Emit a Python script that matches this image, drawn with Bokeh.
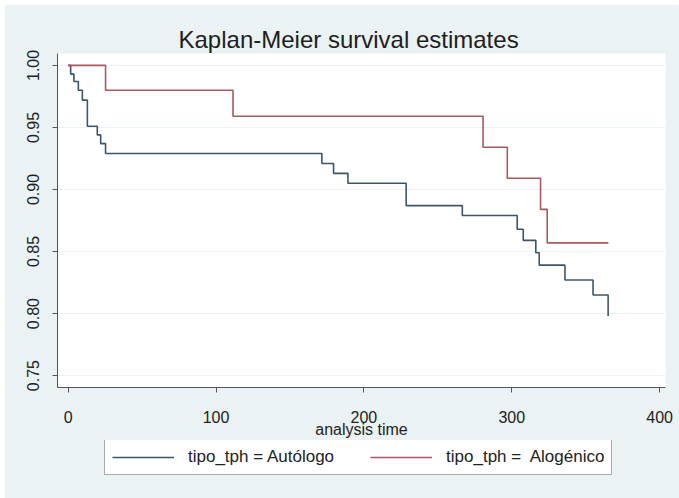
from bokeh.plotting import figure
from bokeh.layouts import column
from bokeh.models import Range1d, FixedTicker, Legend, LegendItem
from bokeh.embed import file_html
from bokeh.resources import INLINE

# Data (Kaplan-Meier step estimates)
auto_time = [0, 1.7, 3.9, 6.9, 9.6, 13.0, 19.7, 22.0, 25.3, 171.6, 179.5, 189.2,
             228.6, 266.6, 303.7, 307.8, 316.3, 318.6, 336.0, 355.0, 365.2]
auto_surv = [1.000, 0.993, 0.987, 0.980, 0.972, 0.951, 0.944, 0.937, 0.929, 0.921, 0.913, 0.905,
             0.887, 0.879, 0.868, 0.859, 0.849, 0.839, 0.827, 0.815, 0.798]
alo_time = [0, 25.3, 111.5, 280.6, 297.0, 319.5, 324.0, 365.4]
alo_surv = [1.000, 0.980, 0.959, 0.934, 0.909, 0.884, 0.857, 0.857]

x_ticks = [0, 100, 200, 300, 400]
y_ticks = [0.75, 0.80, 0.85, 0.90, 0.95, 1.00]
y_labels = ["0.75", "0.80", "0.85", "0.90", "0.95", "1.00"]
title_text = "Kaplan-Meier survival estimates"
x_label = "analysis time"
series_labels = ["tipo_tph = Autólogo", "tipo_tph =  Alogénico"]

FONT = "Liberation Sans"
BG = "#eaf2f3"
BLUE = "#3f5466"
RED = "#a8585f"

p = figure(width=674, height=435, output_backend="svg", toolbar_location=None,
           x_range=Range1d(-7.2, 404), y_range=Range1d(0.7404, 1.0096),
           min_border_left=52, min_border_right=14, min_border_top=48, min_border_bottom=50)
p.background_fill_color = "white"
p.border_fill_color = BG
p.outline_line_color = None

p.title.text = title_text
p.title.align = "left"
p.title.offset = 121
p.title.text_font = FONT
p.title.text_font_size = "24px"
p.title.text_font_style = "normal"
p.title.text_color = "#1e1e1e"
p.title.standoff = 2

p.step(auto_time, auto_surv, mode="after", line_color=BLUE, line_width=1.6)
p.step(alo_time, alo_surv, mode="after", line_color=RED, line_width=1.6)

# axes
p.xaxis.ticker = FixedTicker(ticks=x_ticks)
p.yaxis.ticker = FixedTicker(ticks=y_ticks)
p.yaxis.major_label_overrides = {t: l for t, l in zip(y_ticks, y_labels)}
p.yaxis.major_label_orientation = "vertical"
p.xaxis.axis_label = x_label
for ax in (p.xaxis, p.yaxis):
    ax.axis_line_color = "#555555"
    ax.major_tick_line_color = "#555555"
    ax.major_tick_out = 5
    ax.major_tick_in = 0
    ax.minor_tick_out = 0
    ax.minor_tick_in = 0
    ax.major_label_text_font = FONT
    ax.major_label_text_font_size = "16px"
    ax.major_label_text_color = "#222222"
    ax.axis_label_text_font = FONT
    ax.axis_label_text_font_size = "16px"
    ax.axis_label_text_font_style = "normal"
    ax.axis_label_text_color = "#222222"
p.xaxis.major_label_standoff = 18
p.xaxis.axis_label_standoff = -5
p.yaxis.major_label_standoff = 13

p.xgrid.grid_line_color = None
p.ygrid.grid_line_color = BG
p.ygrid.grid_line_width = 1

# legend strip below the plot (same series, drawn outside its visible ranges)
lf = figure(width=674, height=58, output_backend="svg", toolbar_location=None,
            x_range=Range1d(1000, 1001), y_range=Range1d(1000, 1001),
            x_axis_location=None, y_axis_location=None,
            min_border_left=0, min_border_right=0, min_border_top=0, min_border_bottom=0)
lf.background_fill_color = BG
lf.border_fill_color = BG
lf.outline_line_color = None
lf.xgrid.grid_line_color = None
lf.ygrid.grid_line_color = None
l1 = lf.step(auto_time, auto_surv, mode="after", line_color=BLUE, line_width=1.6)
l2 = lf.step(alo_time, alo_surv, mode="after", line_color=RED, line_width=1.6)

legend = Legend(items=[LegendItem(label=series_labels[0], renderers=[l1]),
                       LegendItem(label=series_labels[1], renderers=[l2])],
                orientation="horizontal", location=(47, 23))
legend.label_text_font = FONT
legend.label_text_font_size = "17px"
legend.label_text_color = "#222222"
legend.glyph_width = 62
legend.glyph_height = 14
legend.label_standoff = 14
legend.spacing = 36
legend.padding = 7
legend.margin = 0
legend.border_line_color = "#555555"
legend.border_line_width = 1
legend.background_fill_color = "white"
legend.background_fill_alpha = 1
lf.add_layout(legend, "center")

layout = column(p, lf, spacing=0, margin=(5, 0, 0, 5), styles={"background-color": BG})
open("out.html", "w").write(file_html(layout, INLINE))
